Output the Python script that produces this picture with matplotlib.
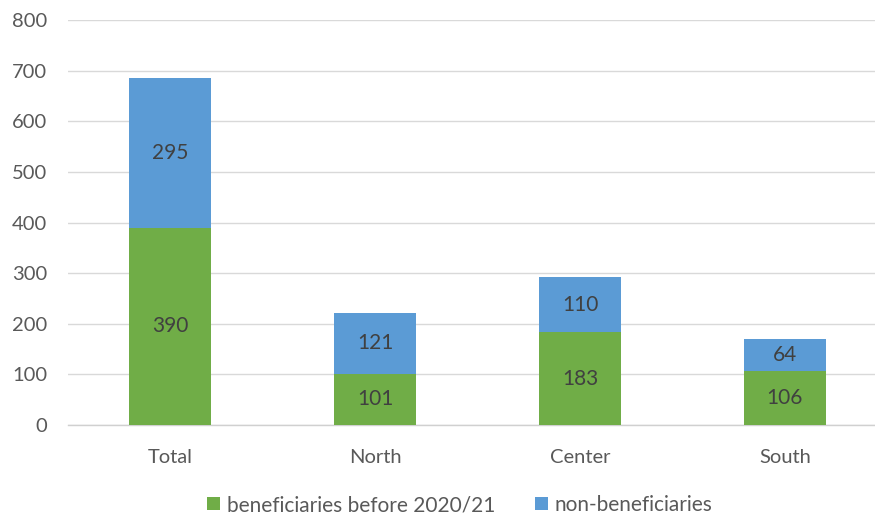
import matplotlib
matplotlib.use("Agg")
import matplotlib.pyplot as plt
import numpy as np

categories = ["Total", "North", "Center", "South"]
beneficiaries = [390, 101, 183, 106]
non_beneficiaries = [295, 121, 110, 64]
yticks = [0, 100, 200, 300, 400, 500, 600, 700, 800]

plt.rcParams['font.family'] = ['Lato', 'DejaVu Sans']

green = "#70AD47"
blue = "#5B9BD5"
txt = "#595959"

fig = plt.figure(figsize=(8.75, 5.2), dpi=100)
ax = fig.add_axes([68/875, 1-425/520, 1-68/875, (425-20)/520])

x = np.arange(len(categories))
w = 0.4
b1 = ax.bar(x, beneficiaries, width=w, color=green, label="beneficiaries before 2020/21", zorder=3)
b2 = ax.bar(x, non_beneficiaries, width=w, bottom=beneficiaries, color=blue, label="non-beneficiaries", zorder=3)

for i in range(len(categories)):
    ax.text(x[i], beneficiaries[i]/2, str(beneficiaries[i]), ha="center", va="center",
            fontsize=15, color="#404040", zorder=4)
    ax.text(x[i], beneficiaries[i] + non_beneficiaries[i]/2, str(non_beneficiaries[i]),
            ha="center", va="center", fontsize=15, color="#404040", zorder=4)

ax.set_xlim(-0.5, 3.44)
ax.set_ylim(0, 800)
ax.set_yticks(yticks)
ax.set_xticks(x)
ax.set_xticklabels(categories)
ax.tick_params(axis="both", length=0, labelsize=14.5, colors=txt)
ax.tick_params(axis="y", pad=15)
ax.tick_params(axis="x", pad=17)
ax.yaxis.grid(True, color="#d9d9d9", linewidth=1, zorder=0)
for s in ["top", "right", "left"]:
    ax.spines[s].set_visible(False)
ax.spines["bottom"].set_color("#d0d0d0")
ax.spines["bottom"].set_linewidth(1)

leg = fig.legend(handles=[b1, b2], loc="center", bbox_to_anchor=(460/875, 1-505/520), ncol=2,
                 frameon=False, fontsize=15, handlelength=0.6, handleheight=0.6,
                 handletextpad=0.35, columnspacing=1.9)
for t in leg.get_texts():
    t.set_color(txt)

fig.savefig("out.png", dpi=100)
